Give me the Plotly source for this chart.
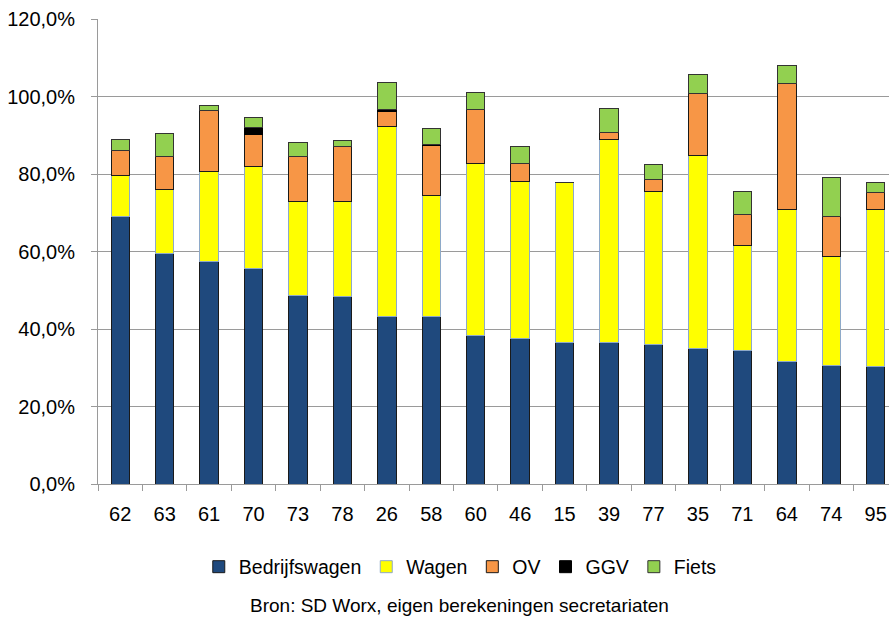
import plotly.graph_objects as go

categories = ["62", "63", "61", "70", "73", "78", "26", "58", "60", "46", "15", "39", "77", "35", "71", "64", "74", "95"]
bedrijfswagen = [69.1, 59.5, 57.3, 55.7, 48.7, 48.4, 43.2, 43.2, 38.3, 37.6, 36.6, 36.4, 36.1, 35.0, 34.5, 31.6, 30.5, 30.3]
wagen = [10.5, 16.6, 23.4, 26.2, 24.2, 24.6, 49.0, 31.2, 44.5, 40.4, 41.1, 52.6, 39.4, 49.8, 27.0, 39.2, 28.3, 40.5]
ov = [6.5, 8.5, 15.6, 8.4, 11.7, 14.1, 3.9, 13.0, 13.9, 4.8, 0.0, 1.8, 3.1, 16.1, 8.1, 32.5, 10.3, 4.4]
ggv = [0.0, 0.0, 0.0, 1.7, 0.0, 0.0, 0.6, 0.3, 0.0, 0.0, 0.0, 0.0, 0.0, 0.0, 0.0, 0.0, 0.0, 0.0]
fiets = [2.9, 5.8, 1.3, 2.6, 3.5, 1.5, 6.9, 4.0, 4.3, 4.3, 0.0, 6.1, 3.9, 4.9, 6.0, 4.8, 10.1, 2.7]

series_names = ["Bedrijfswagen", "Wagen", "OV", "GGV", "Fiets"]
series_values = [bedrijfswagen, wagen, ov, ggv, fiets]
series_colors = ["#1F497D", "#FFFF00", "#F79646", "#000000", "#92D050"]
line_colors = ["#1a1a1a", "#8EA9C8", "#1a1a1a", "#000000", "#333333"]

ytick_vals = [0, 20, 40, 60, 80, 100, 120]
ytick_text = ["0,0%", "20,0%", "40,0%", "60,0%", "80,0%", "100,0%", "120,0%"]

FONT = "Liberation Sans, Arial, sans-serif"

fig = go.Figure()
for name, vals, col, lc in zip(series_names, series_values, series_colors, line_colors):
    fig.add_trace(go.Bar(
        name=name, x=categories, y=vals,
        marker=dict(color=col, line=dict(color=lc, width=1)),
        hoverinfo="x+y+name",
    ))

fig.update_layout(
    barmode="stack",
    bargap=0.585,
    width=889, height=618,
    margin=dict(l=98, r=0, t=19, b=134),
    paper_bgcolor="white", plot_bgcolor="white",
    font=dict(family=FONT, size=20, color="#000000"),
    showlegend=True,
    legend=dict(
        orientation="h", x=0.458, xanchor="center", y=-0.1785, yanchor="middle",
        traceorder="normal", font=dict(size=19.5, family=FONT),
        itemwidth=30, tracegroupgap=0,
    ),
    annotations=[dict(
        text="Bron: SD Worx, eigen berekeningen secretariaten",
        xref="paper", yref="paper", x=0.4575, y=-0.262,
        xanchor="center", yanchor="middle", showarrow=False,
        font=dict(size=19, family=FONT, color="#000000"),
    )],
)

fig.update_xaxes(
    type="category", range=[-0.5, 17.3],
    showline=True, linecolor="#9a9a9a", linewidth=1,
    ticks="outside", tickson="boundaries", ticklen=6, tickcolor="#9a9a9a",
    showgrid=False, tickfont=dict(size=20, family=FONT),
    ticklabelstandoff=12,
)
fig.update_yaxes(
    range=[0, 120], tickvals=ytick_vals, ticktext=ytick_text,
    showline=True, linecolor="#9a9a9a", linewidth=1,
    ticks="outside", ticklen=6, tickcolor="#9a9a9a",
    showgrid=True, gridcolor="#9a9a9a", gridwidth=1,
    zeroline=False, tickfont=dict(size=20, family=FONT),
    ticklabelstandoff=12,
)

fig.write_html(
    "out.html",
    config={"displayModeBar": False},
    post_script="document.body.style.margin='0';document.documentElement.style.overflow='hidden';document.body.style.overflow='hidden';",
)
